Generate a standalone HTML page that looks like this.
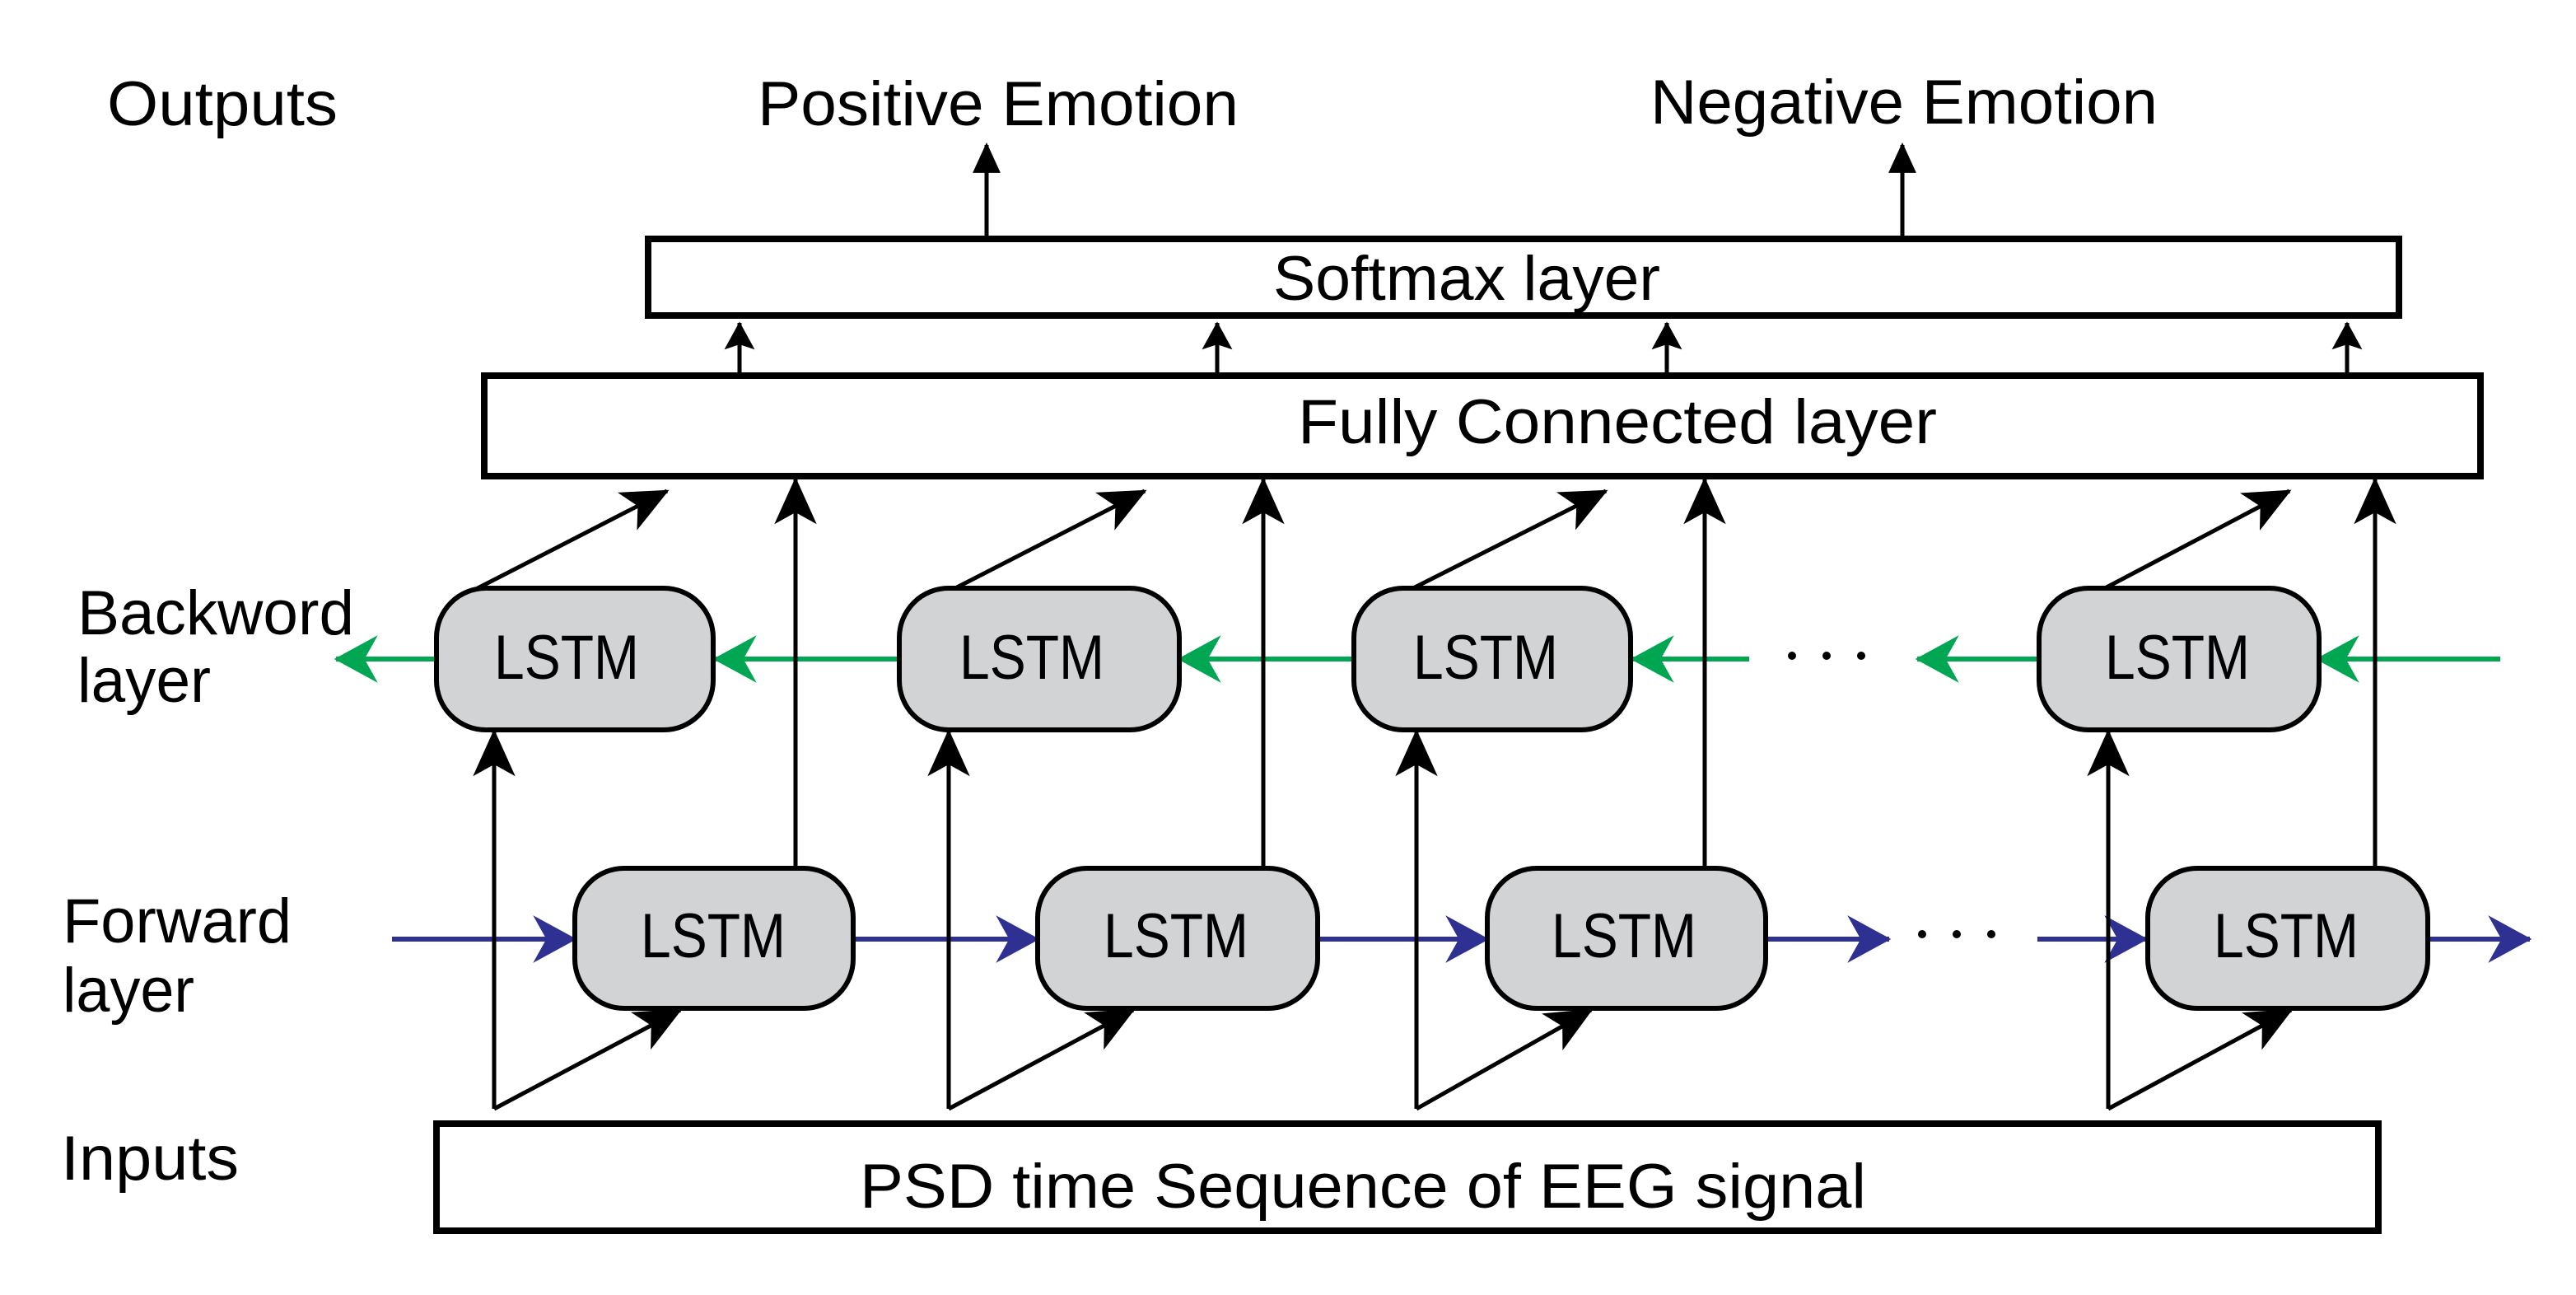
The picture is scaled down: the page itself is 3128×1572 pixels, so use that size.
<!DOCTYPE html>
<html><head><meta charset="utf-8"><style>html,body{margin:0;padding:0;background:#fff}svg{display:block}</style></head>
<body>
<svg width="3128" height="1572" viewBox="0 0 3128 1572" xmlns="http://www.w3.org/2000/svg" font-family="Liberation Sans, Arial, sans-serif">
<defs>
<marker id="ab" markerUnits="userSpaceOnUse" markerWidth="60" markerHeight="60" refX="0" refY="0" viewBox="-40 -20 42 40" orient="auto"><path d="M2,0 L-38,-18 L-28,0 L-38,18 Z" fill="#000"/></marker>
<marker id="as" markerUnits="userSpaceOnUse" markerWidth="40" markerHeight="40" refX="0" refY="0" viewBox="-44 -26 46 52" orient="auto"><path d="M2,0 L-42,-24 L-34,0 L-42,24 Z" fill="#000"/></marker>
<marker id="at" markerUnits="userSpaceOnUse" markerWidth="40" markerHeight="40" refX="0" refY="0" viewBox="-24 -13 26 26" orient="auto"><path d="M2,0 L-22,-11 L-22,11 Z" fill="#000"/></marker>
<marker id="ag" markerUnits="userSpaceOnUse" markerWidth="60" markerHeight="60" refX="0" refY="0" viewBox="-50 -26 52 52" orient="auto"><path d="M2,0 L-44,-25 L-30,0 L-44,25 Z" fill="#00a651"/></marker>
<marker id="ablue" markerUnits="userSpaceOnUse" markerWidth="60" markerHeight="60" refX="0" refY="0" viewBox="-50 -26 52 52" orient="auto"><path d="M2,0 L-44,-25 L-30,0 L-44,25 Z" fill="#2e3192"/></marker>
</defs>

<!-- Labels -->
<g font-size="76" fill="#000">
<text x="130" y="152" textLength="280" lengthAdjust="spacingAndGlyphs">Outputs</text>
<text x="920" y="152" textLength="584" lengthAdjust="spacingAndGlyphs">Positive Emotion</text>
<text x="2004" y="150" textLength="616" lengthAdjust="spacingAndGlyphs">Negative Emotion</text>
<text x="94" y="770" textLength="336" lengthAdjust="spacingAndGlyphs">Backword</text>
<text x="94" y="852" textLength="162" lengthAdjust="spacingAndGlyphs">layer</text>
<text x="76" y="1144" textLength="278" lengthAdjust="spacingAndGlyphs">Forward</text>
<text x="76" y="1228" textLength="160" lengthAdjust="spacingAndGlyphs">layer</text>
<text x="74" y="1432" textLength="216" lengthAdjust="spacingAndGlyphs">Inputs</text>
</g>

<!-- Output arrows -->
<line x1="1198" y1="290" x2="1198" y2="176" stroke="#000" stroke-width="5" marker-end="url(#at)"/>
<line x1="2310" y1="290" x2="2310" y2="176" stroke="#000" stroke-width="5" marker-end="url(#at)"/>

<!-- Softmax -->
<rect x="787" y="290" width="2126" height="93" fill="#fff" stroke="#000" stroke-width="8"/>
<text x="1546" y="364" font-size="76" textLength="470" lengthAdjust="spacingAndGlyphs">Softmax layer</text>

<!-- small arrows -->
<g stroke="#000" stroke-width="5">
<line x1="898" y1="452" x2="898" y2="392" marker-end="url(#as)"/>
<line x1="1478" y1="452" x2="1478" y2="392" marker-end="url(#as)"/>
<line x1="2024" y1="452" x2="2024" y2="392" marker-end="url(#as)"/>
<line x1="2850" y1="452" x2="2850" y2="392" marker-end="url(#as)"/>
</g>

<!-- FC -->
<rect x="588" y="456" width="2424" height="122" fill="#fff" stroke="#000" stroke-width="8"/>
<text x="1576" y="538" font-size="76" textLength="776" lengthAdjust="spacingAndGlyphs">Fully Connected layer</text>

<!-- Green backward line -->
<g stroke="#00a651" stroke-width="6" fill="none">
<line x1="532" y1="800" x2="408" y2="800" marker-end="url(#ag)"/>
<line x1="1094" y1="800" x2="868" y2="800" marker-end="url(#ag)"/>
<line x1="1646" y1="800" x2="1432" y2="800" marker-end="url(#ag)"/>
<line x1="2124" y1="800" x2="1982" y2="800" marker-end="url(#ag)"/>
<line x1="2476" y1="800" x2="2328" y2="800" marker-end="url(#ag)"/>
<line x1="3036" y1="800" x2="2814" y2="800" marker-end="url(#ag)"/>
</g>
<!-- Blue forward line -->
<g stroke="#2e3192" stroke-width="6" fill="none">
<line x1="476" y1="1140" x2="698" y2="1140" marker-end="url(#ablue)"/>
<line x1="1036" y1="1140" x2="1260" y2="1140" marker-end="url(#ablue)"/>
<line x1="1600" y1="1140" x2="1806" y2="1140" marker-end="url(#ablue)"/>
<line x1="2144" y1="1140" x2="2294" y2="1140" marker-end="url(#ablue)"/>
<line x1="2474" y1="1140" x2="2606" y2="1140" marker-end="url(#ablue)"/>
<line x1="2948" y1="1140" x2="3072" y2="1140" marker-end="url(#ablue)"/>
</g>
<!-- dots -->
<g fill="#000">
<circle cx="2176" cy="796" r="5"/><circle cx="2218" cy="796" r="5"/><circle cx="2260" cy="796" r="5"/>
<circle cx="2334" cy="1134" r="5"/><circle cx="2376" cy="1134" r="5"/><circle cx="2418" cy="1134" r="5"/>
</g>

<!-- black connectors -->
<g stroke="#000" stroke-width="5" fill="none">
<!-- input verticals to backward -->
<line x1="600" y1="1346" x2="600" y2="888" marker-end="url(#ab)"/>
<line x1="1152" y1="1346" x2="1152" y2="888" marker-end="url(#ab)"/>
<line x1="1720" y1="1346" x2="1720" y2="888" marker-end="url(#ab)"/>
<line x1="2560" y1="1346" x2="2560" y2="888" marker-end="url(#ab)"/>
<!-- input diagonals to forward -->
<line x1="600" y1="1346" x2="826" y2="1226" marker-end="url(#ab)"/>
<line x1="1152" y1="1346" x2="1376" y2="1226" marker-end="url(#ab)"/>
<line x1="1720" y1="1346" x2="1932" y2="1226" marker-end="url(#ab)"/>
<line x1="2560" y1="1346" x2="2782" y2="1226" marker-end="url(#ab)"/>
<!-- forward tops to FC -->
<line x1="966" y1="1054" x2="966" y2="582" marker-end="url(#ab)"/>
<line x1="1534" y1="1054" x2="1534" y2="582" marker-end="url(#ab)"/>
<line x1="2070" y1="1054" x2="2070" y2="582" marker-end="url(#ab)"/>
<line x1="2884" y1="1054" x2="2884" y2="582" marker-end="url(#ab)"/>
<!-- backward tops diagonal -->
<line x1="580" y1="714" x2="810" y2="596" marker-end="url(#ab)"/>
<line x1="1160" y1="714" x2="1390" y2="596" marker-end="url(#ab)"/>
<line x1="1716" y1="714" x2="1950" y2="596" marker-end="url(#ab)"/>
<line x1="2556" y1="714" x2="2780" y2="596" marker-end="url(#ab)"/>
</g>

<!-- LSTM boxes -->
<g fill="#d1d3d4" stroke="#000" stroke-width="6">
<rect x="530" y="714" width="336" height="172" rx="60"/>
<rect x="1092" y="714" width="340" height="172" rx="60"/>
<rect x="1644" y="714" width="336" height="172" rx="60"/>
<rect x="2476" y="714" width="340" height="172" rx="60"/>
<rect x="698" y="1054" width="338" height="170" rx="60"/>
<rect x="1260" y="1054" width="340" height="170" rx="60"/>
<rect x="1806" y="1054" width="338" height="170" rx="60"/>
<rect x="2608" y="1054" width="340" height="170" rx="60"/>
</g>
<g font-size="76" fill="#000">
<text x="600" y="824" textLength="176" lengthAdjust="spacingAndGlyphs">LSTM</text>
<text x="1165" y="824" textLength="176" lengthAdjust="spacingAndGlyphs">LSTM</text>
<text x="1716" y="824" textLength="176" lengthAdjust="spacingAndGlyphs">LSTM</text>
<text x="2556" y="824" textLength="176" lengthAdjust="spacingAndGlyphs">LSTM</text>
<text x="778" y="1162" textLength="176" lengthAdjust="spacingAndGlyphs">LSTM</text>
<text x="1340" y="1162" textLength="176" lengthAdjust="spacingAndGlyphs">LSTM</text>
<text x="1884" y="1162" textLength="176" lengthAdjust="spacingAndGlyphs">LSTM</text>
<text x="2688" y="1162" textLength="176" lengthAdjust="spacingAndGlyphs">LSTM</text>
</g>

<!-- Inputs box -->
<rect x="530" y="1364" width="2358" height="130" fill="#fff" stroke="#000" stroke-width="8"/>
<text x="1044" y="1466" font-size="76" textLength="1222" lengthAdjust="spacingAndGlyphs">PSD time Sequence of EEG signal</text>
</svg>
</body></html>
